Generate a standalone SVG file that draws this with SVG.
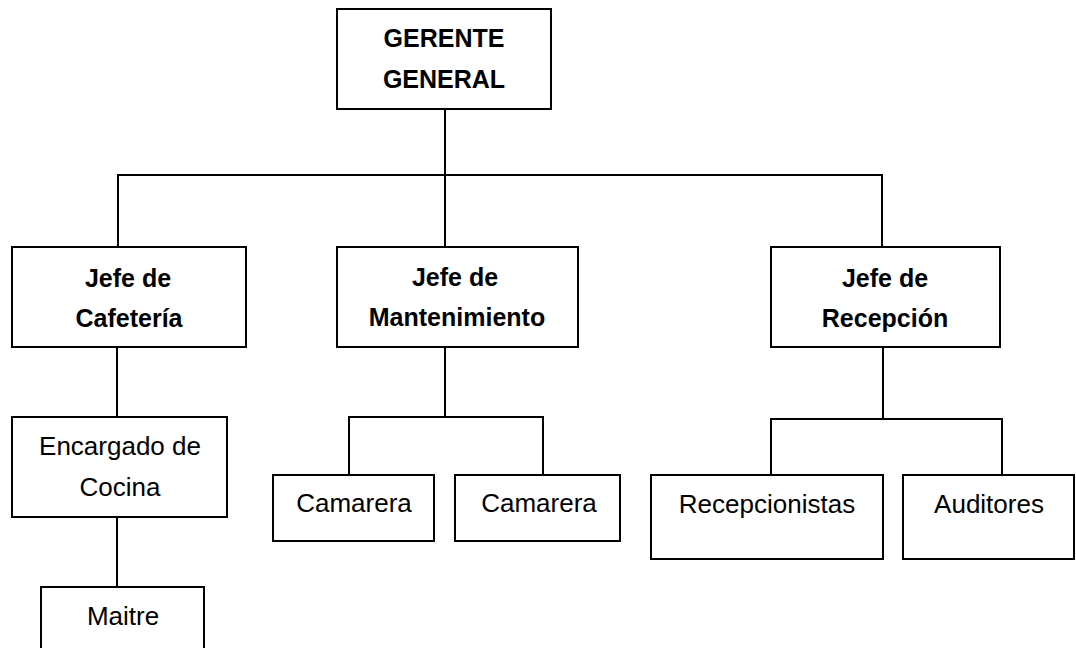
<svg xmlns="http://www.w3.org/2000/svg" width="1076" height="648" viewBox="0 0 1076 648">
<style>
.box{fill:#ffffff;stroke:#000000;stroke-width:2}
.con{fill:none;stroke:#000000;stroke-width:2}
.b{font-family:"Liberation Sans",Arial,sans-serif;font-weight:bold;font-size:25px;fill:#000;text-anchor:middle}
.r{font-family:"Liberation Sans",Arial,sans-serif;font-size:26px;fill:#000;text-anchor:middle}
</style>
<rect width="1076" height="648" fill="#ffffff"/>
<g id="connectors">
<path class="con" d="M445 109 V247"/>
<path class="con" d="M118 247 V175 H882 V247"/>
<path class="con" d="M117 347 V417"/>
<path class="con" d="M117 517 V587"/>
<path class="con" d="M445 347 V417"/>
<path class="con" d="M349 475 V417 H543 V475"/>
<path class="con" d="M883 347 V419"/>
<path class="con" d="M771 475 V419 H1002 V475"/>
</g>
<g id="gerente">
<rect class="box" x="337" y="9" width="214" height="100"/>
<text class="b" x="444" y="47" font-size="22">GERENTE</text>
<text class="b" x="444" y="88" font-size="22">GENERAL</text>
</g>
<g id="jefe-cafeteria">
<rect class="box" x="12" y="247" width="234" height="100"/>
<text class="b" x="128" y="287">Jefe de</text>
<text class="b" x="129" y="327">Cafetería</text>
</g>
<g id="jefe-mantenimiento">
<rect class="box" x="337" y="247" width="241" height="100"/>
<text class="b" x="455" y="286">Jefe de</text>
<text class="b" x="457" y="326" font-size="26.5">Mantenimiento</text>
</g>
<g id="jefe-recepcion">
<rect class="box" x="771" y="247" width="229" height="100"/>
<text class="b" x="885" y="287">Jefe de</text>
<text class="b" x="885" y="327">Recepción</text>
</g>
<g id="encargado-cocina">
<rect class="box" x="12" y="417" width="215" height="100"/>
<text class="r" x="120" y="455">Encargado de</text>
<text class="r" x="120" y="496">Cocina</text>
</g>
<g id="maitre">
<rect class="box" x="41" y="587" width="163" height="80"/>
<text class="r" x="123" y="625">Maitre</text>
</g>
<g id="camarera-1">
<rect class="box" x="273" y="475" width="161" height="66"/>
<text class="r" x="354" y="512">Camarera</text>
</g>
<g id="camarera-2">
<rect class="box" x="455" y="475" width="165" height="66"/>
<text class="r" x="539" y="512">Camarera</text>
</g>
<g id="recepcionistas">
<rect class="box" x="651" y="475" width="232" height="84"/>
<text class="r" x="767" y="513">Recepcionistas</text>
</g>
<g id="auditores">
<rect class="box" x="903" y="475" width="171" height="84"/>
<text class="r" x="989" y="513">Auditores</text>
</g>
</svg>
